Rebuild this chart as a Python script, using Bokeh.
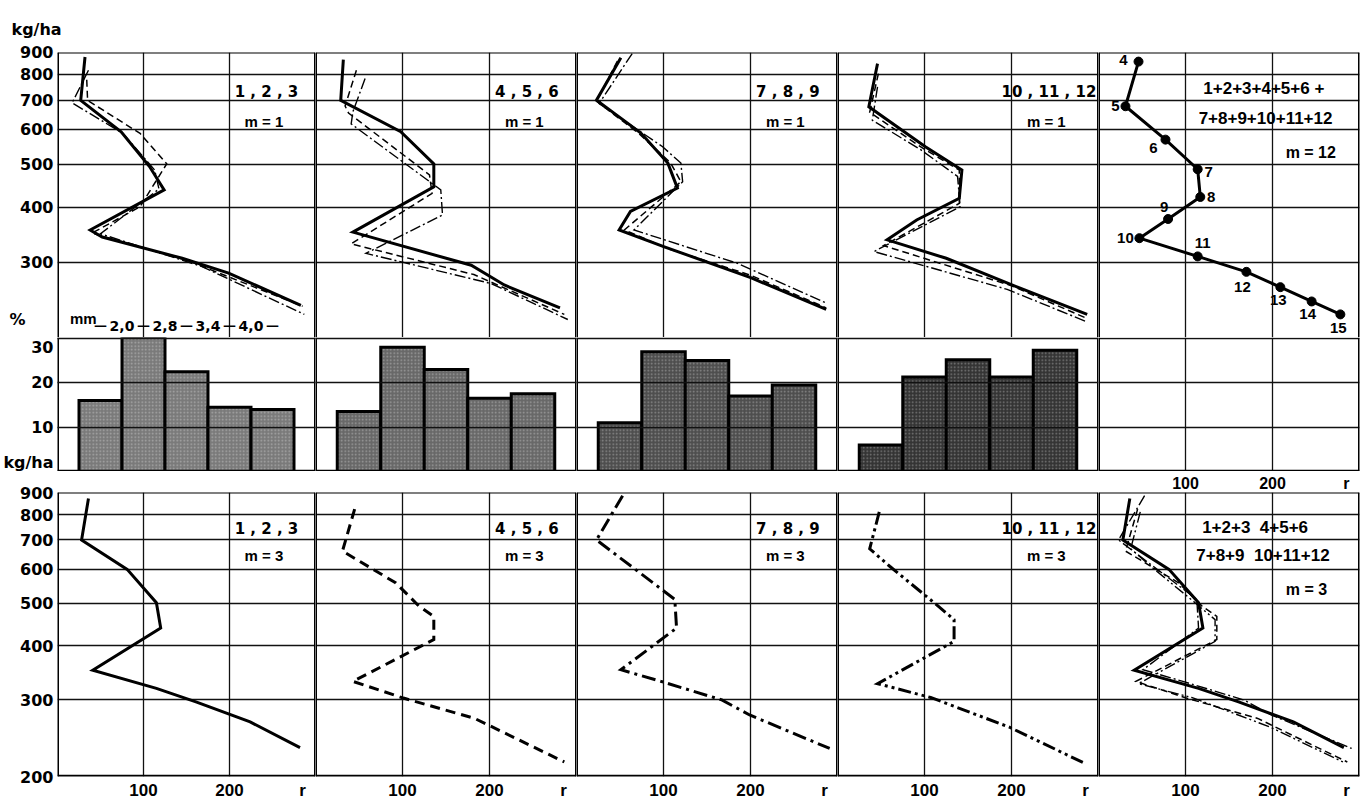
from bokeh.plotting import figure
from bokeh.layouts import gridplot
from bokeh.models import (Range1d, LogAxis, LinearAxis, FixedTicker, Grid, Span,
                          Label, LabelSet, ColumnDataSource, BasicTickFormatter)
from bokeh.core.properties import value
from bokeh.embed import file_html
from bokeh.resources import INLINE

# ---------------- data ----------------
# top row, m = 1: single months, r (x) against kg/ha (y)
mon01_r = [32, 27, 74, 107, 124, 38, 52, 145, 199, 283]
mon01_kg = [879, 700, 594, 495, 438, 355, 342, 306, 283, 239]
mon02_r = [34, 35, 96, 127, 96, 40, 150, 285]
mon02_kg = [780, 700, 589, 502, 401, 349, 303, 238]
mon03_r = [36, 17, 76, 113, 118, 50, 168, 287]
mon03_kg = [820, 691, 589, 486, 440, 348, 293, 228]
mon04_r = [32, 29, 98, 136, 136, 43, 179, 217, 281]
mon04_kg = [867, 700, 594, 502, 445, 351, 295, 266, 236]
mon05_r = [47, 34, 38, 131, 134, 41, 182, 286]
mon05_kg = [820, 680, 655, 474, 430, 330, 281, 228]
mon06_r = [57, 43, 41, 144, 146, 58, 202, 290]
mon06_kg = [785, 660, 619, 438, 384, 314, 268, 222]
mon07_r = [51, 23, 74, 105, 116, 62, 49, 101, 201, 287]
mon07_kg = [876, 701, 590, 504, 442, 391, 355, 325, 276, 234]
mon08_r = [47, 23, 72, 108, 120, 55, 105, 200, 287]
mon08_kg = [860, 697, 588, 505, 457, 355, 322, 280, 236]
mon09_r = [64, 26, 99, 120, 122, 66, 185, 287]
mon09_kg = [895, 689, 549, 504, 457, 355, 298, 242]
mon10_r = [46, 36, 101, 143, 140, 91, 57, 125, 207, 287]
mon10_kg = [849, 677, 549, 486, 419, 374, 337, 306, 263, 228]
mon11_r = [47, 37, 98, 140, 140, 53, 200, 285]
mon11_kg = [806, 658, 545, 486, 408, 327, 265, 224]
mon12_r = [46, 40, 96, 138, 141, 42, 195, 285]
mon12_kg = [752, 631, 540, 470, 401, 317, 260, 220]

# top right, m = 12: all months together, numbered nodes
m12_node = ["4", "5", "6", "7", "8", "9", "10", "11", "12", "13", "14", "15"]
m12_r = [46, 31, 77, 114, 117, 80, 47, 114, 170, 209, 245, 278]
m12_kg = [858, 679, 570, 488, 422, 376, 340, 309, 285, 263, 244, 228]

# bottom row, m = 3: quarters
q1_r = [36, 28, 81, 115, 120, 41, 115, 161, 224, 282]
q1_kg = [872, 700, 599, 502, 439, 351, 319, 297, 267, 233]
q2_r = [45, 31, 92, 119, 136, 136, 43, 101, 183, 286]
q2_kg = [824, 660, 558, 493, 467, 413, 331, 303, 272, 216]
q3_r = [53, 23, 113, 115, 51, 97, 167, 199, 291]
q3_kg = [885, 700, 511, 439, 352, 331, 300, 277, 232]
q4_r = [48, 37, 60, 111, 134, 134, 46, 107, 197, 283]
q4_kg = [812, 668, 609, 502, 459, 409, 327, 304, 260, 215]

# grain size distribution (%) per quarter
size_classes = ["< 2,0", "2,0 - 2,8", "2,8 - 3,4", "3,4 - 4,0", "> 4,0"]
class_bounds = ["2,0", "2,8", "3,4", "4,0"]
share_q1 = [16, 31, 22.5, 14.5, 14]
share_q2 = [13.5, 28, 23, 16.5, 17.5]
share_q3 = [11, 27, 25, 17, 19.5]
share_q4 = [6, 21.3, 25.2, 21.3, 27.3]

group_labels = ["1 , 2 , 3", "4 , 5 , 6", "7 , 8 , 9", "10 , 11 , 12"]
kg_ticks_top = [300, 400, 500, 600, 700, 800, 900]
kg_ticks_bottom = [200, 300, 400, 500, 600, 700, 800, 900]
pct_ticks = [10, 20, 30]
r_grid = [100, 200]
r_ticks = [100, 200, 285]

# ---------------- layout / style ----------------
FRAME_W = 261
LEFT_B = 54
RIGHT_B = 6
TOP_H, TOP_BT = 285, 52
HIST_H = 134
BOT_H, BOT_BT, BOT_BB = 284, 21, 26
INK = "#111111"
NB = "\u00a0"

SOLID = dict(line_dash="solid")
DASH = dict(line_dash="7 4")
DOT_DASH = dict(line_dash="11 3 2 3")
DOT2_DASH = dict(line_dash="11 3 2 3 2 3")


def base_fig(col, frame_h, b_top, b_bot, y_rng, y_type="linear"):
    lb = LEFT_B if col == 0 else 0
    rb = RIGHT_B if col == 4 else 0
    p = figure(width=FRAME_W + lb + rb, height=frame_h + b_top + b_bot,
               x_range=Range1d(0, 300), y_range=y_rng, y_axis_type=y_type,
               x_axis_location=None, y_axis_location=None,
               toolbar_location=None, output_backend="svg",
               min_border=0, min_border_left=lb, min_border_right=rb,
               min_border_top=b_top, min_border_bottom=b_bot)
    p.outline_line_color = None
    p.background_fill_color = "white"
    p.border_fill_color = "white"
    p.center = [c for c in p.center if not isinstance(c, Grid)]
    return p


def add_grid(p, xticks, yticks, level="underlay"):
    if xticks:
        p.add_layout(Grid(dimension=0, ticker=FixedTicker(ticks=xticks),
                          grid_line_color=INK, grid_line_width=1.3, level=level))
    p.add_layout(Grid(dimension=1, ticker=FixedTicker(ticks=yticks),
                      grid_line_color=INK, grid_line_width=1.7, level=level))


def add_borders(p):
    for loc in (0, 300):
        p.add_layout(Span(location=loc, dimension="height", line_color="black", line_width=3))


def y_axis(ticks, cls=LinearAxis, overrides=None):
    return cls(ticker=FixedTicker(ticks=ticks), formatter=BasicTickFormatter(),
               major_label_overrides=overrides or {},
               axis_line_color=None, major_tick_line_color=None,
               minor_tick_line_color=None, major_tick_out=0, major_tick_in=0,
               major_label_standoff=4,
               major_label_text_font="DejaVu Sans", major_label_text_font_style="bold",
               major_label_text_font_size="16px", major_label_text_color="black")


def r_axis(show=True, size="17px", standoff=4):
    return LinearAxis(ticker=FixedTicker(ticks=r_ticks), major_label_overrides={285: "r"},
                      axis_line_color=None, major_tick_line_color=None,
                      minor_tick_line_color=None, major_tick_out=0, major_tick_in=0,
                      major_label_standoff=standoff,
                      major_label_text_font="Liberation Sans", major_label_text_font_style="bold",
                      major_label_text_font_size=size,
                      major_label_text_color="black" if show else None)


def label(p, x, y, text, size="15px", font="DejaVu Sans", align="center", baseline="middle"):
    p.add_layout(Label(x=x, y=y, text=text, text_align=align, text_baseline=baseline,
                       text_font=font, text_font_style="bold", text_font_size=size,
                       text_color="black"))


def labelset(p, xs, ys, texts, size, font, **kw):
    src = ColumnDataSource(dict(x=xs, y=ys, t=texts))
    p.add_layout(LabelSet(x="x", y="y", text="t", source=src, text_align="center",
                          text_baseline="middle", text_font=value(font),
                          text_font_style="bold", text_font_size=size,
                          text_color="black", **kw))


# ---------------- top row ----------------
top_series = [
    [(mon01_r, mon01_kg), (mon02_r, mon02_kg), (mon03_r, mon03_kg)],
    [(mon04_r, mon04_kg), (mon05_r, mon05_kg), (mon06_r, mon06_kg)],
    [(mon07_r, mon07_kg), (mon08_r, mon08_kg), (mon09_r, mon09_kg)],
    [(mon10_r, mon10_kg), (mon11_r, mon11_kg), (mon12_r, mon12_kg)],
]
top_styles = [dict(line_width=3, **SOLID), dict(line_width=1.5, **DASH),
              dict(line_width=1.4, **DOT_DASH)]

bar_centers = [50 * (i + 1) for i in range(len(size_classes))]
bound_pos = [75 + 50 * i for i in range(len(class_bounds))]

top_row = []
for c in range(5):
    p = base_fig(c, TOP_H, TOP_BT, 0, Range1d(202, 900), "log")
    add_grid(p, r_grid, kg_ticks_top)
    add_borders(p)
    p.add_layout(Span(location=900, dimension="width", line_color="black", line_width=2))
    if c == 0:
        pct_pos = 222
        p.add_layout(y_axis([pct_pos] + kg_ticks_top, LogAxis,
                            overrides={pct_pos: "%" + NB * 5}), "left")
        p.title.text = "kg/ha"
        p.title.align = "left"
        p.title.offset = -46
        p.title.standoff = 27
        p.title.text_font = "DejaVu Sans"
        p.title.text_font_style = "bold"
        p.title.text_font_size = "16px"
        p.title.text_color = "black"
        # size-class header of the histogram below
        label(p, 30, 223, "mm", size="15px", font="Liberation Sans", baseline="alphabetic")
        labelset(p, bound_pos, [215] * len(bound_pos), class_bounds, "14px", "DejaVu Sans")
        labelset(p, bar_centers, [215] * len(bar_centers), ["\u2014"] * len(bar_centers),
                 "13px", "DejaVu Sans")
    if c < 4:
        for (xs, ys), st in zip(top_series[c], top_styles):
            p.line(xs, ys, line_color="black", line_join="miter", **st)
        label(p, 243, 733, group_labels[c], size="15px")
        label(p, 240, 628, "m = 1", size="15px", font="Liberation Sans")
    else:
        src = ColumnDataSource(dict(x=m12_r, y=m12_kg, t=m12_node,
                                    dx=[-15, -10, -12, 11, 11, -4, -14, 5, -4, -2, -4, -2],
                                    dy=[2, 0, -8, -3, 0, 12, 0, 13, -15, -13, -13, -14]))
        p.line("x", "y", source=src, line_color="black", line_width=3)
        p.scatter("x", "y", source=src, size=9, color="black")
        p.add_layout(LabelSet(x="x", y="y", text="t", source=src, x_offset="dx", y_offset="dy",
                              text_align="center", text_baseline="middle",
                              text_font=value("Liberation Sans"), text_font_style="bold",
                              text_font_size="15px", text_color="black"))
        label(p, 190, 744, "1+2+3+4+5+6 +", size="17px", font="Liberation Sans")
        label(p, 192, 639, "7+8+9+10+11+12", size="17px", font="Liberation Sans")
        label(p, 244, 534, "m = 12", size="16px", font="Liberation Sans")
    top_row.append(p)

# ---------------- histogram row ----------------
shares = [share_q1, share_q2, share_q3, share_q4]
bar_fill = ["#7a7a7a", "#686868", "#4e4e4e", "#343434"]

hist_row = []
for c in range(5):
    p = base_fig(c, HIST_H, 0, 0, Range1d(0, 30.2))
    add_borders(p)
    p.add_layout(Span(location=0, dimension="width", line_color="black", line_width=3.5))
    if c < 4:
        add_grid(p, None, pct_ticks, level="overlay")
        p.vbar(x=bar_centers, width=50, top=shares[c], bottom=0,
               fill_color=bar_fill[c], line_color="black", line_width=3, line_join="miter",
               hatch_pattern="dot", hatch_color="white", hatch_alpha=0.35, hatch_scale=3.5,
               hatch_weight=1)
    else:
        add_grid(p, r_grid, pct_ticks)
    if c == 0:
        p.add_layout(y_axis([0.7] + pct_ticks, overrides={0.7: "kg/ha"}), "left")
    hist_row.append(p)

# ---------------- bottom row ----------------
bot_series = [(q1_r, q1_kg), (q2_r, q2_kg), (q3_r, q3_kg), (q4_r, q4_kg)]
bot_styles = [SOLID, dict(line_dash="10 6"), dict(line_dash="14 5 3 5"), dict(line_dash="13 4 3 4 3 4")]
bot_right_styles = [dict(line_width=3, **SOLID), dict(line_width=1.5, **DASH),
                    dict(line_width=1.4, **DOT_DASH), dict(line_width=1.4, **DOT2_DASH)]

bot_row = []
for c in range(5):
    p = base_fig(c, BOT_H, BOT_BT, BOT_BB, Range1d(200, 900), "log")
    add_grid(p, r_grid, kg_ticks_bottom)
    add_borders(p)
    p.add_layout(Span(location=200, dimension="width", line_color="black", line_width=3.5))
    p.add_layout(Span(location=900, dimension="width", line_color="black", line_width=2))
    p.add_layout(r_axis(), "below")
    p.add_layout(r_axis(show=(c == 4), size="16px", standoff=1), "above")
    if c == 0:
        p.add_layout(y_axis(kg_ticks_bottom, LogAxis), "left")
    if c < 4:
        xs, ys = bot_series[c]
        p.line(xs, ys, line_color="black", line_width=3, line_join="miter", **bot_styles[c])
        label(p, 243, 741, group_labels[c], size="15px")
        label(p, 240, 643, "m = 3", size="15px", font="Liberation Sans")
    else:
        for (xs, ys), st in zip(bot_series, bot_right_styles):
            p.line(xs, ys, line_color="black", line_join="miter", **st)
        label(p, 180, 747, "1+2+3" + NB * 2 + "4+5+6", size="17px", font="Liberation Sans")
        label(p, 189, 643, "7+8+9" + NB * 2 + "10+11+12", size="17px", font="Liberation Sans")
        label(p, 239, 538, "m = 3", size="16px", font="Liberation Sans")
    bot_row.append(p)

grid = gridplot([top_row, hist_row, bot_row], toolbar_location=None)

open("out.html", "w").write(file_html(grid, INLINE))
